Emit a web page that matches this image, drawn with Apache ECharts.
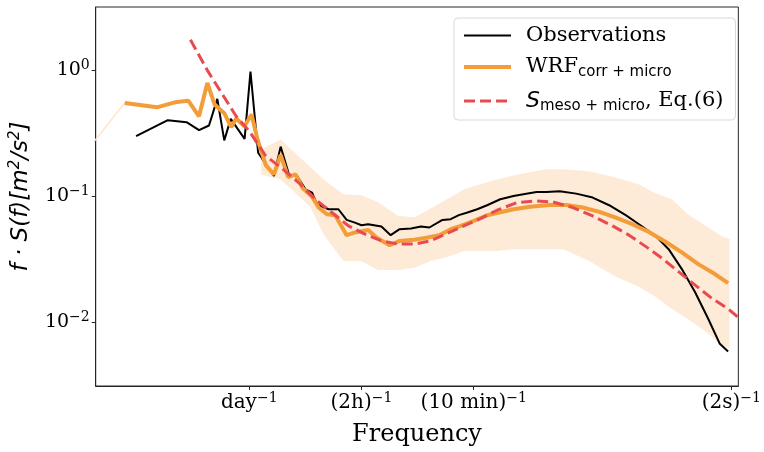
<!DOCTYPE html>
<html>
<head>
<meta charset="utf-8">
<script src="https://cdn.jsdelivr.net/npm/echarts@6/dist/echarts.min.js"></script>
<style>
html, body { margin: 0; padding: 0; background: #fff; }
#chart { width: 764px; height: 452px; }
</style>
</head>
<body>
<div id="chart"></div>
<script>
// frequency [Hz] and f*S(f) [m^2/s^2]
var obsFreq = [9.46e-7, 1.91e-6, 2.89e-6, 3.81e-6, 4.75e-6, 5.71e-6, 6.66e-6, 7.69e-6, 1.045e-5, 1.19e-5,
  1.41e-5, 2.0e-5, 2.32e-5, 2.79e-5, 3.34e-5, 4.02e-5, 4.65e-5, 5.19e-5, 6.70e-5, 8.34e-5,
  1.0e-4, 1.20e-4, 1.39e-4, 1.61e-4, 2.16e-4, 2.65e-4, 3.23e-4, 4.16e-4, 5.19e-4, 6.24e-4,
  8.34e-4, 1.0e-3, 1.2e-3, 1.45e-3, 1.8e-3, 2.24e-3, 3.0e-3, 4.02e-3, 5.0e-3, 6.7e-3,
  8.34e-3, 0.01117, 0.0161, 0.0232, 0.0334, 0.0482, 0.0646, 0.0931, 0.1247, 0.167,
  0.224, 0.30, 0.387, 0.465];
var obsVal = [0.30, 0.402, 0.388, 0.335, 0.365, 0.594, 0.278, 0.412, 0.286, 0.98,
  0.222, 0.145, 0.248, 0.149, 0.145, 0.1136, 0.107, 0.0865, 0.0789, 0.0789,
  0.0649, 0.0618, 0.0589, 0.0600, 0.0575, 0.0491, 0.0548, 0.0555, 0.0575, 0.0565,
  0.0649, 0.0658, 0.0708, 0.0743, 0.0789, 0.0849, 0.0947, 0.1005, 0.1037, 0.108,
  0.108, 0.1096, 0.105, 0.0977, 0.0849, 0.0708, 0.060, 0.0485, 0.038, 0.0264,
  0.0173, 0.0106, 0.00673, 0.00585];

var wrfFreq = [7.36e-7, 1.50e-6, 2.32e-6, 3.0e-6, 3.81e-6, 4.58e-6, 5.38e-6, 6.70e-6, 7.76e-6, 8.67e-6,
  1.04e-5, 1.22e-5, 1.39e-5, 1.67e-5, 2.0e-5, 2.32e-5, 2.74e-5, 3.23e-5, 3.79e-5, 4.65e-5,
  5.38e-5, 6.46e-5, 7.76e-5, 1.0e-4, 1.20e-4, 1.61e-4, 1.93e-4, 2.59e-4, 3.23e-4, 4.48e-4,
  6.0e-4, 7.76e-4, 1.0e-3, 1.25e-3, 1.67e-3, 2.24e-3, 3.0e-3, 4.02e-3, 5.78e-3, 8.97e-3,
  0.01294, 0.01866, 0.0269, 0.0387, 0.0558, 0.0804, 0.116, 0.167, 0.240, 0.347, 0.465];
var wrfVal = [0.552, 0.509, 0.562, 0.575, 0.432, 0.795, 0.535, 0.454, 0.354, 0.415,
  0.360, 0.446, 0.283, 0.177, 0.149, 0.213, 0.142, 0.149, 0.1157, 0.0991,
  0.0814, 0.072, 0.0707, 0.0491, 0.0516, 0.054, 0.047, 0.0408, 0.0442, 0.0451,
  0.0471, 0.0491, 0.0548, 0.0582, 0.0637, 0.0707, 0.0747, 0.0789, 0.0826, 0.0853,
  0.0853, 0.0814, 0.0751, 0.0678, 0.06, 0.0521, 0.0435, 0.0358, 0.0289, 0.0241, 0.0204];

// raw WRF spectrum: start segment (runs off the left edge) and its spread
var rawFreq = [3.16e-7, 7.36e-7];
var rawVal = [0.229, 0.552];
var bandFreq = [1.51e-5, 2.32e-5, 3.47e-5, 4.49e-5, 6.0e-5, 9.3e-5, 1.38e-4, 2.0e-4, 3.11e-4, 4.52e-4,
  6.41e-4, 9.31e-4, 1.35e-3, 1.92e-3, 2.79e-3, 4.05e-3, 5.74e-3, 8.34e-3, 0.0121, 0.0214,
  0.0387, 0.0641, 0.0931, 0.134, 0.191, 0.277, 0.403, 0.480];
var bandHigh = [0.236, 0.283, 0.207, 0.170, 0.136, 0.1037, 0.1018, 0.0897, 0.070, 0.068,
  0.080, 0.095, 0.1136, 0.1245, 0.136, 0.1465, 0.155, 0.1636, 0.1636, 0.158,
  0.1413, 0.1245, 0.1057, 0.0947, 0.072, 0.0589, 0.0482, 0.0457];
var bandLow = [0.149, 0.136, 0.1002, 0.0819, 0.050, 0.0306, 0.0306, 0.026, 0.026, 0.027,
  0.0306, 0.0329, 0.0367, 0.0367, 0.0367, 0.038, 0.038, 0.038, 0.038, 0.0306,
  0.0229, 0.0191, 0.0159, 0.0127, 0.0106, 0.00853, 0.0066, 0.00614];

var modelFreq = [3.15e-6, 4.65e-6, 8.67e-6, 1.16e-5, 1.67e-5, 2.40e-5, 3.47e-5, 5.0e-5, 7.21e-5, 1.04e-4,
  1.50e-4, 2.16e-4, 3.11e-4, 4.48e-4, 6.46e-4, 9.31e-4, 1.34e-3, 1.93e-3, 2.79e-3, 4.32e-3,
  6.70e-3, 9.66e-3, 0.01497, 0.0232, 0.036, 0.0519, 0.0748, 0.108, 0.155, 0.224,
  0.323, 0.465, 0.578];
var modelVal = [1.75, 0.982, 0.432, 0.329, 0.209, 0.166, 0.128, 0.0946, 0.0743, 0.0582,
  0.050, 0.0443, 0.0417, 0.0417, 0.0443, 0.0509, 0.0582, 0.0665, 0.0775, 0.0891,
  0.0918, 0.0901, 0.0814, 0.0698, 0.0582, 0.0491, 0.040, 0.0321, 0.0252, 0.0197,
  0.0155, 0.01274, 0.01096];

var xTickValues = [1 / 86400, 1 / 7200, 1 / 600, 0.5];
var xTickLabels = ['day', '(2h)', '(10 min)', '(2s)'];
var yTickValues = [0.01, 0.1, 1];

function pairs(xs, ys) {
  return xs.map(function (x, i) { return [x, ys[i]]; });
}

var chart = echarts.init(document.getElementById('chart'));
var serif = 'DejaVu Serif';
var sans = 'DejaVu Sans';

var option = {
  animation: false,
  grid: {
    left: 95, right: 20, top: 7, bottom: 65,
    show: true, borderColor: '#262626', borderWidth: 1, backgroundColor: 'transparent'
  },
  legend: {
    data: [
      { name: 'Observations', lineStyle: { color: '#000', width: 2 } },
      { name: 'WRF', lineStyle: { color: '#f39c38', width: 4 } },
      { name: 'S', lineStyle: { color: '#e84a4f', width: 3, type: [11, 5] } }
    ],
    orient: 'vertical',
    left: 454, top: 18,
    padding: [7, 12, 6, 8],
    itemWidth: 47, itemHeight: 14, itemGap: 8,
    itemStyle: { opacity: 0 },
    backgroundColor: '#fff',
    borderColor: '#d9d9d9', borderWidth: 1, borderRadius: 4,
    formatter: function (name) {
      if (name === 'Observations') return '{t|Observations}';
      if (name === 'WRF') return '{t|WRF}{s|corr + micro}';
      return '{i|S}{s|meso + micro}{t|, Eq.(6)}';
    },
    textStyle: {
      color: '#000',
      padding: [0, 0, 0, 10],
      rich: {
        t: { fontFamily: serif, fontSize: 21, lineHeight: 26, color: '#000' },
        i: { fontFamily: sans, fontStyle: 'italic', fontSize: 22, lineHeight: 26, color: '#000' },
        s: { fontFamily: sans, fontSize: 15, lineHeight: 15, padding: [11, 0, 0, 0], color: '#000' }
      }
    }
  },
  xAxis: {
    type: 'log',
    logBase: 10,
    min: 3.87e-7,
    max: 0.583,
    name: 'Frequency',
    nameLocation: 'middle',
    nameGap: 37,
    nameTextStyle: { fontFamily: serif, fontSize: 24, color: '#000' },
    axisLine: { show: true, lineStyle: { color: '#262626', width: 1 } },
    axisTick: { show: true, length: 4, lineStyle: { color: '#262626' }, customValues: xTickValues },
    splitLine: { show: false },
    minorTick: { show: false },
    axisLabel: {
      customValues: xTickValues,
      margin: 6,
      color: '#000',
      fontFamily: serif,
      fontSize: 20,
      lineHeight: 22,
      formatter: function (v) {
        var best = 0;
        for (var i = 1; i < xTickValues.length; i++) {
          if (Math.abs(Math.log10(xTickValues[i] / v)) < Math.abs(Math.log10(xTickValues[best] / v))) best = i;
        }
        return xTickLabels[best] + '{sup|\u22121}';
      },
      rich: {
        sup: { fontFamily: serif, fontSize: 14, lineHeight: 14, padding: [0, 0, 10, 0], color: '#000' }
      }
    }
  },
  yAxis: {
    type: 'log',
    logBase: 10,
    min: 0.00311,
    max: 3.19,
    name: '{n|f \u00B7 S(f)[m}{sup|2}{n|/s}{sup|2}{n|]}',
    nameLocation: 'middle',
    nameRotate: 90,
    nameGap: 58,
    nameTextStyle: {
      color: '#000',
      rich: {
        n: { fontFamily: sans, fontStyle: 'italic', fontSize: 23, lineHeight: 26, color: '#000' },
        sup: { fontFamily: sans, fontStyle: 'italic', fontSize: 15, lineHeight: 15, padding: [0, 0, 11, 0], color: '#000' }
      }
    },
    axisLine: { show: true, lineStyle: { color: '#262626', width: 1 } },
    axisTick: { show: true, length: 4, lineStyle: { color: '#262626' }, customValues: yTickValues },
    splitLine: { show: false },
    minorTick: { show: false },
    axisLabel: {
      customValues: yTickValues,
      margin: 6,
      color: '#000',
      fontFamily: serif,
      fontSize: 19,
      lineHeight: 22,
      formatter: function (v) {
        var e = Math.round(Math.log10(v));
        return '10{sup|' + (e < 0 ? '\u2212' + (-e) : e) + '}';
      },
      rich: {
        sup: { fontFamily: serif, fontSize: 14, lineHeight: 14, padding: [0, 0, 10, 0], color: '#000' }
      }
    }
  },
  series: [
    {
      type: 'custom',
      name: 'band',
      silent: true,
      clip: true,
      z: 1,
      renderItem: function (params, api) {
        if (params.dataIndex !== 0) return null;
        var pts = [];
        for (var i = 0; i < bandFreq.length; i++) pts.push(api.coord([bandFreq[i], bandHigh[i]]));
        for (var j = bandFreq.length - 1; j >= 0; j--) pts.push(api.coord([bandFreq[j], bandLow[j]]));
        return { type: 'polygon', shape: { points: pts }, style: { fill: '#fdebd7' } };
      },
      encode: { x: 0, y: [1, 2] },
      data: bandFreq.map(function (f, i) { return [f, bandHigh[i], bandLow[i]]; })
    },
    {
      type: 'line',
      name: 'raw',
      silent: true,
      z: 1,
      symbol: 'none',
      lineStyle: { color: '#fde4cb', width: 1.5 },
      data: pairs(rawFreq, rawVal)
    },
    {
      type: 'line',
      name: 'Observations',
      z: 2,
      symbol: 'none',
      color: '#000',
      lineStyle: { color: '#000', width: 2 },
      data: pairs(obsFreq, obsVal)
    },
    {
      type: 'line',
      name: 'WRF',
      z: 3,
      symbol: 'none',
      color: '#f39c38',
      lineStyle: { color: '#f39c38', width: 4 },
      data: pairs(wrfFreq, wrfVal)
    },
    {
      type: 'line',
      name: 'S',
      z: 4,
      symbol: 'none',
      color: '#e84a4f',
      lineStyle: { color: '#e84a4f', width: 3, type: [11, 5] },
      data: pairs(modelFreq, modelVal)
    }
  ]
};

chart.setOption(option);
</script>
</body>
</html>
